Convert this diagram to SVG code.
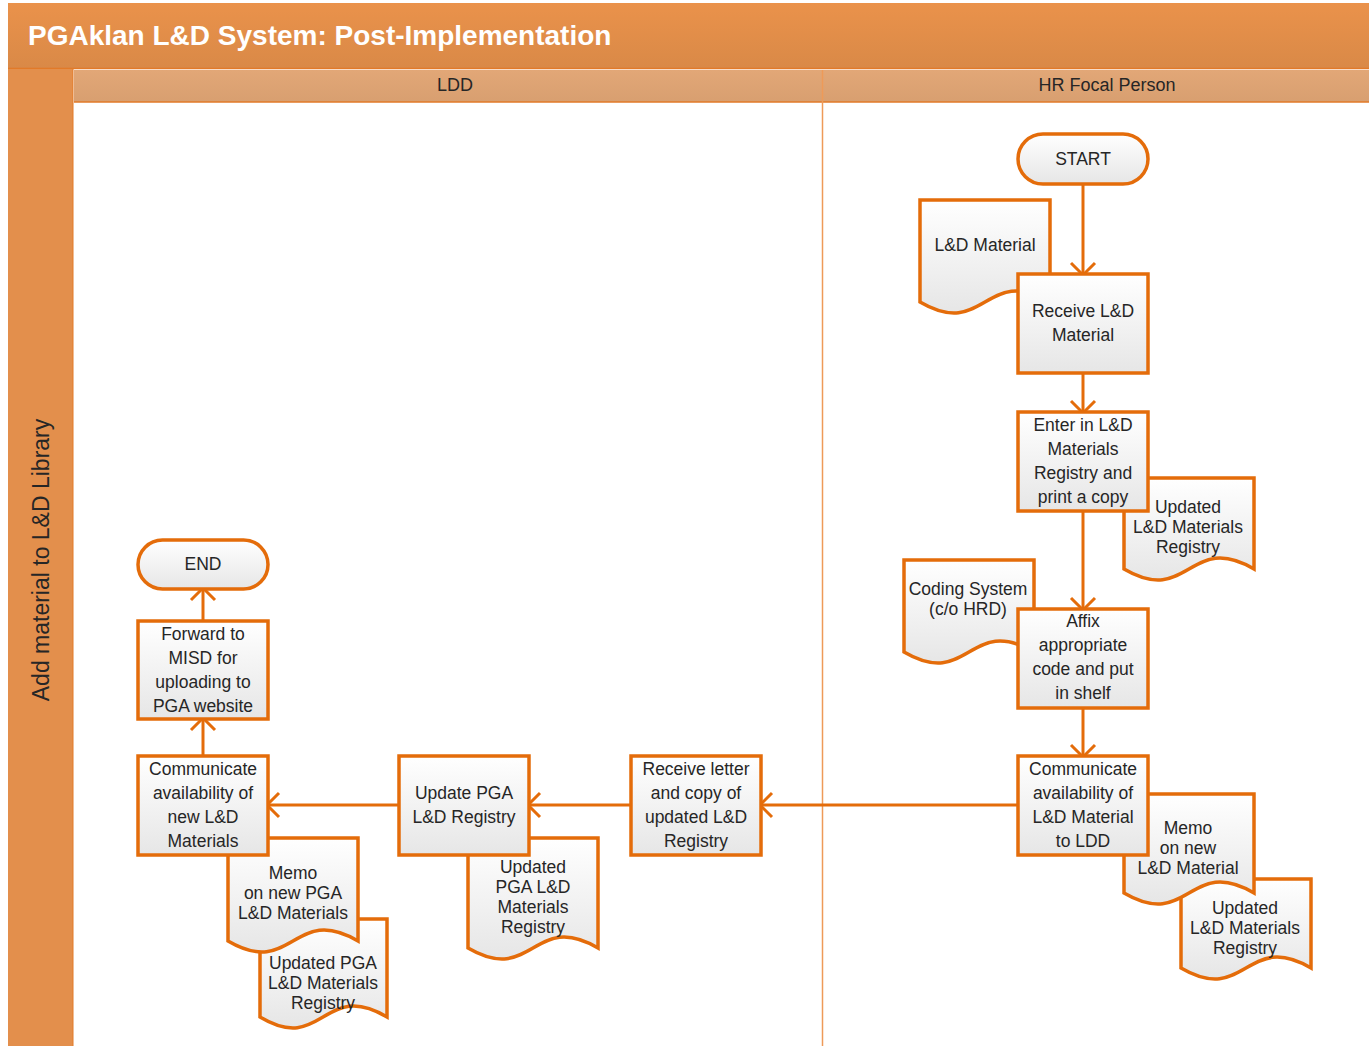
<svg xmlns="http://www.w3.org/2000/svg" width="1369" height="1046" viewBox="0 0 1369 1046">
  <defs>
    <linearGradient id="titleFill" x1="0" y1="0" x2="0" y2="1">
      <stop offset="0" stop-color="#EA924B"/>
      <stop offset="1" stop-color="#D98947"/>
    </linearGradient>
    <linearGradient id="laneFill" x1="0" y1="0" x2="0" y2="1">
      <stop offset="0" stop-color="#E2A777"/>
      <stop offset="1" stop-color="#D89F70"/>
    </linearGradient>
    <linearGradient id="shapeFill" x1="0" y1="0" x2="0" y2="1">
      <stop offset="0" stop-color="#FFFFFF"/>
      <stop offset="1" stop-color="#E6E6E6"/>
    </linearGradient>
    <marker id="arrow" viewBox="-16 -16 20 32" refX="-1" refY="0" markerWidth="20" markerHeight="32" markerUnits="userSpaceOnUse" orient="auto">
      <path d="M-12,-12 L0,0 L-12,12" fill="none" stroke="#E46C0A" stroke-width="3"/>
    </marker>
    <style>
      .title { font-family: "Liberation Sans", Arial, sans-serif; font-weight: bold; font-size: 28px; fill: #FFFFFF; }
      .lane { font-family: "Liberation Sans", Arial, sans-serif; font-size: 18px; fill: #262626; text-anchor: middle; }
      .pool { font-family: "Liberation Sans", Arial, sans-serif; font-size: 23px; fill: #262626; text-anchor: middle; }
      .box { fill: url(#shapeFill); stroke: #E46C0A; stroke-width: 3.5; stroke-linejoin: miter; }
      .label { font-family: "Liberation Sans", Arial, sans-serif; font-size: 17.5px; fill: #262626; text-anchor: middle; }
      .edge { fill: none; stroke: #E46C0A; stroke-width: 3; marker-end: url(#arrow); }
    </style>
  </defs>

  <rect x="0" y="0" width="1369" height="1046" fill="#FFFFFF"/>

  <!-- Pool frame: title bar, side band, lane headers -->
  <g id="pool">
    <rect x="8" y="3" width="1361" height="66" fill="url(#titleFill)"/>
    <line x1="8" y1="68.5" x2="1369" y2="68.5" stroke="#E27A28" stroke-width="1.5"/>
    <text class="title" x="28" y="45">PGAklan L&amp;D System: Post-Implementation</text>
    <rect x="8" y="69" width="65" height="977" fill="#E38F4C"/>
    <line x1="73" y1="69" x2="73" y2="1046" stroke="#E27A28" stroke-width="1"/>
    <text class="pool" transform="translate(49,560) rotate(-90)">Add material to L&amp;D Library</text>
  </g>

  <g id="lane-ldd">
    <rect x="74" y="70" width="748" height="32" fill="url(#laneFill)"/>
    <line x1="74" y1="102" x2="822" y2="102" stroke="#E27A28" stroke-width="1.5"/>
    <text class="lane" x="455" y="91">LDD</text>
  </g>
  <g id="lane-hr">
    <rect x="823" y="70" width="546" height="32" fill="url(#laneFill)"/>
    <line x1="823" y1="102" x2="1369" y2="102" stroke="#E27A28" stroke-width="1.5"/>
    <text class="lane" x="1107" y="91">HR Focal Person</text>
  </g>
  <line x1="822.5" y1="70" x2="822.5" y2="1046" stroke="#EE9A58" stroke-width="1.5"/>

  <!-- Connectors -->
  <g id="connectors">
    <line class="edge" x1="1083" y1="184" x2="1083" y2="274"/>
    <line class="edge" x1="1083" y1="373" x2="1083" y2="412"/>
    <line class="edge" x1="1083" y1="511" x2="1083" y2="609"/>
    <line class="edge" x1="1083" y1="708" x2="1083" y2="756"/>
    <line class="edge" x1="1018" y1="805" x2="761" y2="805"/>
    <line class="edge" x1="631" y1="805" x2="529" y2="805"/>
    <line class="edge" x1="399" y1="805" x2="268" y2="805"/>
    <line class="edge" x1="203" y1="756" x2="203" y2="719"/>
    <line class="edge" x1="203" y1="621" x2="203" y2="589"/>
  </g>

  <!-- HR Focal Person lane -->
  <g id="start">
    <rect class="box" x="1018" y="134" width="130" height="50" rx="25" ry="25"/>
    <text class="label" x="1083" y="165">START</text>
  </g>

  <g id="doc-ld-material">
    <path class="box" d="M920,200 H1050 V302 C985,264 985,340 920,302 Z"/>
    <text class="label" x="985" y="251">L&amp;D Material</text>
  </g>

  <g id="receive-material">
    <rect class="box" x="1018" y="274" width="130" height="99"/>
    <text class="label" x="1083" y="317">Receive L&amp;D</text>
    <text class="label" x="1083" y="341">Material</text>
  </g>

  <g id="doc-updated-registry-1">
    <path class="box" d="M1124,478 H1254 V569 C1189,531 1189,607 1124,569 Z"/>
    <text class="label" x="1188" y="513">Updated</text>
    <text class="label" x="1188" y="533">L&amp;D Materials</text>
    <text class="label" x="1188" y="553">Registry</text>
  </g>

  <g id="enter-registry">
    <rect class="box" x="1018" y="412" width="130" height="99"/>
    <text class="label" x="1083" y="431">Enter in L&amp;D</text>
    <text class="label" x="1083" y="455">Materials</text>
    <text class="label" x="1083" y="479">Registry and</text>
    <text class="label" x="1083" y="503">print a copy</text>
  </g>

  <g id="doc-coding-system">
    <path class="box" d="M904,560 H1034 V652 C969,614 969,690 904,652 Z"/>
    <text class="label" x="968" y="595">Coding System</text>
    <text class="label" x="968" y="615">(c/o HRD)</text>
  </g>

  <g id="affix-code">
    <rect class="box" x="1018" y="609" width="130" height="99"/>
    <text class="label" x="1083" y="627">Affix</text>
    <text class="label" x="1083" y="651">appropriate</text>
    <text class="label" x="1083" y="675">code and put</text>
    <text class="label" x="1083" y="699">in shelf</text>
  </g>

  <g id="doc-updated-registry-2">
    <path class="box" d="M1181,879 H1311 V968 C1246,930 1246,1006 1181,968 Z"/>
    <text class="label" x="1245" y="914">Updated</text>
    <text class="label" x="1245" y="934">L&amp;D Materials</text>
    <text class="label" x="1245" y="954">Registry</text>
  </g>

  <g id="doc-memo-material">
    <path class="box" d="M1124,794 H1254 V893 C1189,855 1189,931 1124,893 Z"/>
    <text class="label" x="1188" y="834">Memo</text>
    <text class="label" x="1188" y="854">on new</text>
    <text class="label" x="1188" y="874">L&amp;D Material</text>
  </g>

  <g id="communicate-ldd">
    <rect class="box" x="1018" y="756" width="130" height="99"/>
    <text class="label" x="1083" y="775">Communicate</text>
    <text class="label" x="1083" y="799">availability of</text>
    <text class="label" x="1083" y="823">L&amp;D Material</text>
    <text class="label" x="1083" y="847">to LDD</text>
  </g>

  <!-- LDD lane -->
  <g id="receive-letter">
    <rect class="box" x="631" y="756" width="130" height="99"/>
    <text class="label" x="696" y="775">Receive letter</text>
    <text class="label" x="696" y="799">and copy of</text>
    <text class="label" x="696" y="823">updated L&amp;D</text>
    <text class="label" x="696" y="847">Registry</text>
  </g>

  <g id="doc-updated-pga-registry-1">
    <path class="box" d="M468,838 H598 V948 C533,910 533,986 468,948 Z"/>
    <text class="label" x="533" y="873">Updated</text>
    <text class="label" x="533" y="893">PGA L&amp;D</text>
    <text class="label" x="533" y="913">Materials</text>
    <text class="label" x="533" y="933">Registry</text>
  </g>

  <g id="update-pga-registry">
    <rect class="box" x="399" y="756" width="130" height="99"/>
    <text class="label" x="464" y="799">Update PGA</text>
    <text class="label" x="464" y="823">L&amp;D Registry</text>
  </g>

  <g id="doc-updated-pga-registry-2">
    <path class="box" d="M260,919 H387 V1017 C323,979 323,1055 260,1017 Z"/>
    <text class="label" x="323" y="969">Updated PGA</text>
    <text class="label" x="323" y="989">L&amp;D Materials</text>
    <text class="label" x="323" y="1009">Registry</text>
  </g>

  <g id="doc-memo-pga">
    <path class="box" d="M228,838 H358 V941 C293,903 293,979 228,941 Z"/>
    <text class="label" x="293" y="879">Memo</text>
    <text class="label" x="293" y="899">on new PGA</text>
    <text class="label" x="293" y="919">L&amp;D Materials</text>
  </g>

  <g id="communicate-new">
    <rect class="box" x="138" y="756" width="130" height="99"/>
    <text class="label" x="203" y="775">Communicate</text>
    <text class="label" x="203" y="799">availability of</text>
    <text class="label" x="203" y="823">new L&amp;D</text>
    <text class="label" x="203" y="847">Materials</text>
  </g>

  <g id="forward-misd">
    <rect class="box" x="138" y="621" width="130" height="98"/>
    <text class="label" x="203" y="640">Forward to</text>
    <text class="label" x="203" y="664">MISD for</text>
    <text class="label" x="203" y="688">uploading to</text>
    <text class="label" x="203" y="712">PGA website</text>
  </g>

  <g id="end">
    <rect class="box" x="138" y="540" width="130" height="49" rx="24.5" ry="24.5"/>
    <text class="label" x="203" y="570">END</text>
  </g>
</svg>
